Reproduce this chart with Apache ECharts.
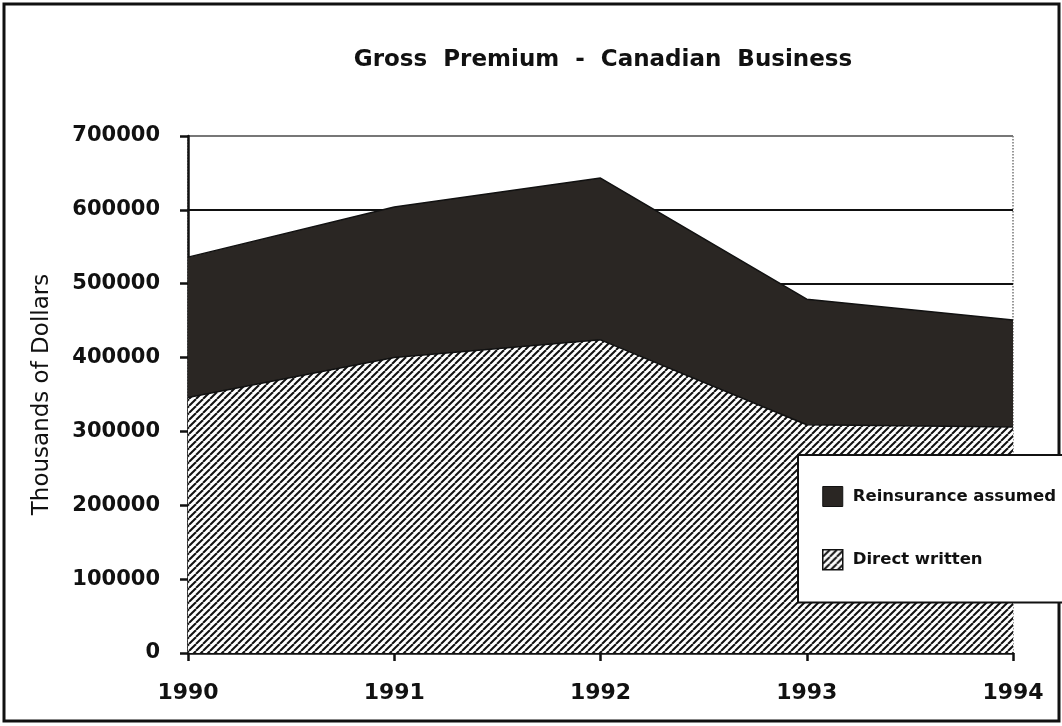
<!DOCTYPE html>
<html>
<head>
<meta charset="utf-8">
<script src="https://cdn.jsdelivr.net/npm/echarts@6/dist/echarts.min.js"></script>
<style>
  html, body { margin: 0; padding: 0; background: #fff; }
  #chart { width: 1062px; height: 726px; }
</style>
</head>
<body>
<div id="chart"></div>
<script>
// values (thousands of dollars)
const years = ['1990', '1991', '1992', '1993', '1994']
const directWritten = [346000, 400000, 424000, 309000, 306000]
const reinsuranceAssumed = [190000, 204000, 219000, 170000, 145000]
const yTicks = [0, 100000, 200000, 300000, 400000, 500000, 600000, 700000]

// diagonal hatch fill like the old printout
function makeHatch () {
  const size = 7
  const c = document.createElement('canvas')
  c.width = size
  c.height = size
  const ctx = c.getContext('2d')
  ctx.fillStyle = '#fff'
  ctx.fillRect(0, 0, size, size)
  ctx.strokeStyle = '#111'
  ctx.lineWidth = 2
  for (const o of [-size, 0, size]) {
    ctx.beginPath()
    ctx.moveTo(o, size)
    ctx.lineTo(o + size, 0)
    ctx.stroke()
  }
  return c
}
const hatch = { image: makeHatch(), repeat: 'repeat' }
const dark = '#2a2623'
const tickFont = 'DejaVu Sans'

const splitColors = yTicks.map((v, i) => i === yTicks.length - 1 ? '#777' : '#111')

const option = {
  backgroundColor: '#fff',
  animation: false,
  title: {
    text: 'Gross  Premium  -  Canadian  Business',
    left: 598,
    textAlign: 'center',
    top: 44,
    textStyle: { fontFamily: tickFont, fontWeight: 'bold', fontSize: 23, color: '#111' }
  },
  graphic: [{
    type: 'rect',
    z: 0,
    shape: { x: 4, y: 4, width: 1055, height: 717 },
    style: { fill: 'none', stroke: '#111', lineWidth: 3 }
  }],
  legend: {
    z: 20,
    orient: 'vertical',
    left: 798,
    top: 455,
    padding: [31, 30, 32, 24],
    itemWidth: 20,
    itemHeight: 20,
    itemGap: 42,
    icon: 'rect',
    backgroundColor: '#fff',
    borderColor: '#111',
    borderWidth: 2,
    textStyle: { fontFamily: tickFont, fontWeight: 'bold', fontSize: 16.5, color: '#111', padding: [0, 0, 0, 5] },
    data: [
      { name: 'Reinsurance assumed', itemStyle: { color: dark, borderColor: '#111', borderWidth: 1 } },
      { name: 'Direct written', itemStyle: { color: hatch, borderColor: '#111', borderWidth: 1.5 } }
    ]
  },
  grid: {
    left: 188, right: 49, top: 136, bottom: 73,
    show: true,
    borderColor: '#777',
    borderWidth: 1.5,
    borderType: 'dotted'
  },
  xAxis: {
    type: 'category',
    data: years,
    boundaryGap: false,
    axisLine: { lineStyle: { color: '#111', width: 2.5 } },
    axisTick: { length: 8, lineStyle: { color: '#111', width: 2.5 } },
    axisLabel: { margin: 29, fontFamily: tickFont, fontWeight: 'bold', fontSize: 22, color: '#111' }
  },
  yAxis: {
    type: 'value',
    min: 0,
    max: 700000,
    interval: 100000,
    name: 'Thousands of Dollars',
    nameLocation: 'middle',
    nameGap: 134,
    nameTextStyle: { fontFamily: tickFont, fontSize: 23, color: '#111' },
    axisLine: { show: true, lineStyle: { color: '#111', width: 2.5 } },
    axisTick: { show: true, length: 8, lineStyle: { color: '#111', width: 2.5 } },
    axisLabel: {
      margin: 28, fontFamily: tickFont, fontWeight: 'bold', fontSize: 21, color: '#111',
      formatter: (v) => String(v)
    },
    splitLine: { show: true, lineStyle: { color: splitColors, width: 2 } }
  },
  series: [
    {
      name: 'Direct written',
      type: 'line',
      stack: 'total',
      data: directWritten,
      showSymbol: false,
      symbol: 'none',
      itemStyle: { color: hatch },
      lineStyle: { color: '#111', width: 1.5 },
      areaStyle: { color: hatch, opacity: 1 }
    },
    {
      name: 'Reinsurance assumed',
      type: 'line',
      stack: 'total',
      data: reinsuranceAssumed,
      showSymbol: false,
      symbol: 'none',
      itemStyle: { color: dark },
      lineStyle: { color: '#111', width: 1.5 },
      areaStyle: { color: dark, opacity: 1 }
    }
  ]
}

const myChart = echarts.init(document.getElementById('chart'))
myChart.setOption(option)
</script>
</body>
</html>
